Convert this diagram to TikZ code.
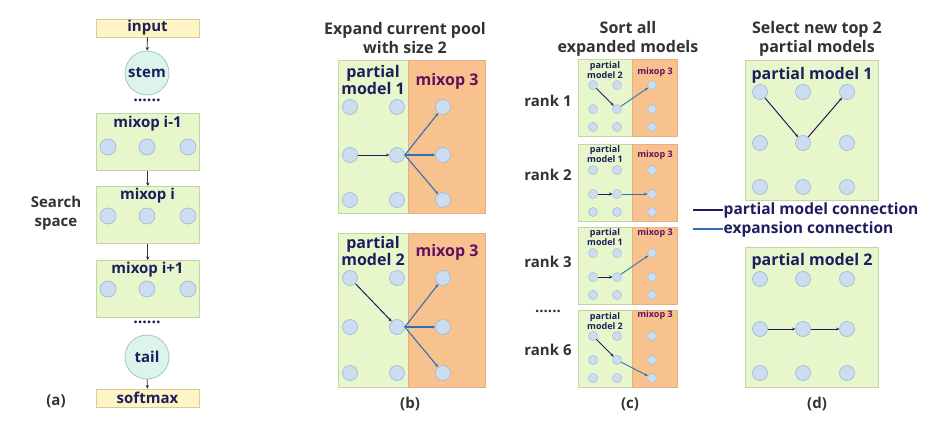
\documentclass[tikz,border=0pt]{standalone}
\usepackage{fontspec}
\setmainfont{Open Sans}
\usetikzlibrary{arrows.meta}
\definecolor{gfill}{HTML}{E8F6CB}
\definecolor{gline}{HTML}{C4D4A4}
\definecolor{ofill}{HTML}{F8C28E}
\definecolor{oline}{HTML}{E8B080}
\definecolor{yfill}{HTML}{FFF5C4}
\definecolor{yline}{HTML}{D6CC9C}
\definecolor{cfill}{HTML}{DCF4EC}
\definecolor{cline}{HTML}{9CC4B8}
\definecolor{dfill}{HTML}{CCDDF2}
\definecolor{dline}{HTML}{A4BCD4}
\definecolor{navy}{HTML}{1E1E5E}
\definecolor{purp}{HTML}{64105E}
\definecolor{expblue}{HTML}{2E72B4}
\definecolor{txt}{HTML}{333333}
\begin{document}
\begin{tikzpicture}[x=1pt,y=-1pt,
  font=\bfseries\fontsize{16}{18}\selectfont,
  gbox/.style={draw=gline,fill=gfill,line width=0.7pt,inner sep=0pt,anchor=north west},
  obox/.style={draw=oline,fill=ofill,line width=0.7pt,inner sep=0pt,anchor=north west},
  ybox/.style={draw=yline,fill=yfill,line width=0.7pt,minimum width=103pt,minimum height=18pt,inner sep=0pt,text=navy,font=\bfseries\fontsize{15}{15}\selectfont},
  cnode/.style={circle,draw=cline,fill=cfill,line width=0.7pt,minimum size=44pt,inner sep=0pt,text=navy,font=\bfseries\fontsize{15}{15}\selectfont},
  dot/.style={circle,draw=dline,fill=dfill,line width=0.7pt,minimum size=15pt,inner sep=0pt},
  sdot/.style={circle,draw=dline,fill=dfill,line width=0.5pt,minimum size=9pt,inner sep=0pt},
  btitle/.style={text=navy,font=\bfseries\fontsize{15}{15}\selectfont},
  pm/.style={draw=navy,line width=1pt,-{Stealth[length=3pt,width=3pt]}},
  ex/.style={draw=expblue,line width=1.1pt,-{Stealth[length=3pt,width=3pt]}},
  arr/.style={draw=black!80,line width=0.8pt,-{Stealth[length=3.5pt,width=3.5pt]}},
  lbl/.style={text=txt,align=center},
  smtxt/.style={font=\bfseries\fontsize{9}{10.5}\selectfont,align=center,inner sep=0pt}
]
\useasboundingbox (0,0) rectangle (937,431);
\fill[white] (0,0) rectangle (937,431);

% ---------------- panel (a)
\node[ybox] (input) at (147.5,28) {input};
\node[cnode] (stem) at (147,73) {stem};
\node[text=navy] (dotsA) at (147,100) {......};
\node[gbox,minimum width=103pt,minimum height=57pt] (m1) at (96,113) {};
\node[gbox,minimum width=103pt,minimum height=57pt] (m2) at (96,186) {};
\node[gbox,minimum width=103pt,minimum height=57pt] (m3) at (96,260) {};
\node[btitle] (m1t) at (147.5,124) {mixop i-1};
\node[btitle] (m2t) at (147.5,196) {mixop i};
\node[btitle] (m3t) at (147.5,270) {mixop i+1};
\foreach \c/\x in {1/108,2/147,3/188}{
  \node[dot,minimum size=16pt] (a1\c) at (\x,147) {};
  \node[dot,minimum size=16pt] (a2\c) at (\x,216) {};
  \node[dot,minimum size=16pt] (a3\c) at (\x,289) {};
}
\node[text=navy] (dotsB) at (147,322) {......};
\node[cnode] (tail) at (147,357) {tail};
\node[ybox] (softmax) at (147.5,398) {softmax};
\draw[arr] (input) -- (stem);
\draw[arr] (m1) -- (m2);
\draw[arr] (m2) -- (m3);
\draw[arr] (tail) -- (softmax);
\node[lbl,font=\bfseries\fontsize{15}{19}\selectfont] (search) at (56,213) {Search\\space};
\node[lbl,font=\bfseries\fontsize{15}{15}\selectfont] (la) at (56,401) {(a)};

% ---------------- panel (b)
\node[lbl,font=\bfseries\fontsize{16}{19}\selectfont] (tb) at (405,38) {Expand current pool\\with size 2};
\node[gbox,minimum width=70pt,minimum height=153pt] (bAg) at (338,60) {};
\node[obox,minimum width=77pt,minimum height=153pt] (bAo) at (408,60) {};
\node[gbox,minimum width=70pt,minimum height=154pt] (bBg) at (338,233) {};
\node[obox,minimum width=77pt,minimum height=154pt] (bBo) at (408,233) {};
\node[text=navy,align=center,font=\bfseries\fontsize{16}{16.5}\selectfont] (bAt) at (373,80) {partial\\model 1};
\node[text=purp] (bAm) at (447,81) {mixop 3};
\node[text=navy,align=center,font=\bfseries\fontsize{16}{16.5}\selectfont] (bBt) at (373,251) {partial\\model 2};
\node[text=purp] (bBm) at (447,252) {mixop 3};
\foreach \c/\x in {1/350,2/397,3/443}{
  \foreach \r/\y in {1/107,2/155,3/200}{ \node[dot] (bA\c\r) at (\x,\y) {}; }
  \foreach \r/\y in {1/278,2/327,3/373}{ \node[dot] (bB\c\r) at (\x,\y) {}; }
}
\draw[pm] (bA12) -- (bA22);
\draw[ex] (bA22.east) -- (bA31);
\draw[ex] (bA22.east) -- (bA32);
\draw[ex] (bA22.east) -- (bA33);
\draw[pm] (bB11) -- (bB22);
\draw[ex] (bB22.east) -- (bB31);
\draw[ex] (bB22.east) -- (bB32);
\draw[ex] (bB22.east) -- (bB33);
\node[lbl,font=\bfseries\fontsize{15}{15}\selectfont] (lb) at (410,404) {(b)};

% ---------------- panel (c)
\node[lbl,font=\bfseries\fontsize{16}{19}\selectfont] (tc) at (628,39) {Sort all\\expanded models};
\foreach \k/\T/\pmn/\lt/\mt in {1/59/2/70/72, 2/144/1/154/155, 3/227/1/237/233, 6/310/2/321/315}{
  \node[gbox,minimum width=54pt,minimum height=77pt] (c\k g) at (578,\T) {};
  \node[obox,minimum width=45pt,minimum height=77pt] (c\k o) at (632,\T) {};
  \node[smtxt,text=navy] (c\k t) at (605,\lt) {partial\\model \pmn};
  \node[smtxt,text=purp] (c\k m) at (655,\mt) {mixop 3};
  \foreach \c/\x in {1/593,2/617,3/652}{
    \node[sdot] (c\k-\c1) at (\x,\T+26) {};
    \node[sdot] (c\k-\c2) at (\x,\T+50) {};
    \node[sdot] (c\k-\c3) at (\x,\T+68) {};
  }
}
\draw[pm,line width=0.9pt] (c1-11) -- (c1-22);
\draw[ex,line width=0.9pt] (c1-22) -- (c1-31);
\draw[pm,line width=0.9pt] (c2-12) -- (c2-22);
\draw[ex,line width=0.9pt] (c2-22) -- (c2-32);
\draw[pm,line width=0.9pt] (c3-12) -- (c3-22);
\draw[ex,line width=0.9pt] (c3-22) -- (c3-31);
\draw[pm,line width=0.9pt] (c6-11) -- (c6-22);
\draw[ex,line width=0.9pt] (c6-22) -- (c6-33);
\node[lbl,font=\bfseries\fontsize{15}{15}\selectfont] (r1) at (548,101) {rank 1};
\node[lbl,font=\bfseries\fontsize{15}{15}\selectfont] (r2) at (548,175) {rank 2};
\node[lbl,font=\bfseries\fontsize{15}{15}\selectfont] (r3) at (548,262) {rank 3};
\node[lbl,font=\bfseries\fontsize{15}{15}\selectfont] (rd) at (548,311) {......};
\node[lbl,font=\bfseries\fontsize{15}{15}\selectfont] (r6) at (548,350) {rank 6};
\node[lbl,font=\bfseries\fontsize{15}{15}\selectfont] (lc) at (630,404) {(c)};

% ---------------- panel (d)
\node[lbl,font=\bfseries\fontsize{16}{19}\selectfont] (td) at (817,39) {Select new top 2\\partial models};
\node[gbox,minimum width=133pt,minimum height=140pt] (d1) at (745,60) {};
\node[gbox,minimum width=133pt,minimum height=140pt] (d2) at (745,247) {};
\node[text=navy] (d1t) at (812,75) {partial model 1};
\node[text=navy] (d2t) at (812,261) {partial model 2};
\foreach \c/\x in {1/760,2/803,3/847}{
  \foreach \r/\y in {1/92,2/143,3/187}{ \node[dot] (dA\c\r) at (\x,\y) {}; }
  \foreach \r/\y in {1/279,2/329,3/373}{ \node[dot] (dB\c\r) at (\x,\y) {}; }
}
\draw[pm] (dA11) -- (dA22);
\draw[pm] (dA22) -- (dA31);
\draw[pm] (dB12) -- (dB22);
\draw[pm] (dB22) -- (dB32);
\node[lbl,font=\bfseries\fontsize{15}{15}\selectfont] (ld) at (817,404) {(d)};

% legend
\coordinate (lg1a) at (693,210);
\coordinate (lg1b) at (723,210);
\coordinate (lg2a) at (693,229);
\coordinate (lg2b) at (723,229);
\draw[navy,line width=1.6pt] (lg1a) -- (lg1b);
\draw[expblue,line width=1.2pt] (lg2a) -- (lg2b);
\node[anchor=west,inner sep=0.5pt,text=navy,font=\bfseries\fontsize{15.5}{15.5}\selectfont] (lg1t) at (lg1b) {partial model connection};
\node[anchor=west,inner sep=0.5pt,text=navy,font=\bfseries\fontsize{15.5}{15.5}\selectfont] (lg2t) at (lg2b) {expansion connection};
\end{tikzpicture}
\end{document}
